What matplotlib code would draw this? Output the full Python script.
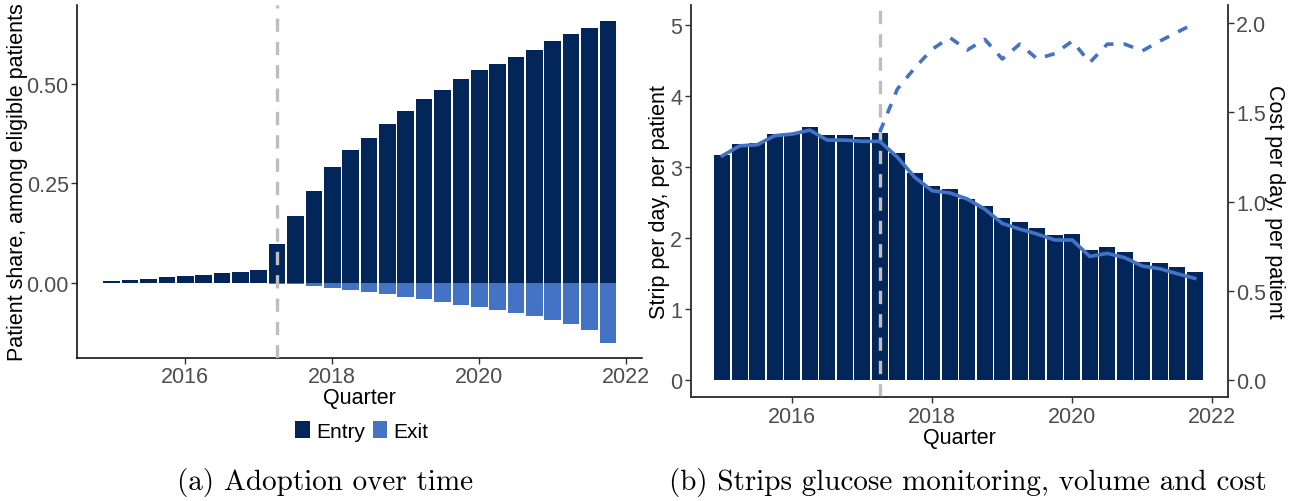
import matplotlib
matplotlib.use("Agg")
import matplotlib.pyplot as plt
from matplotlib.patches import Patch
import numpy as np

plt.rcParams["font.family"] = ["Liberation Sans", "DejaVu Sans"]

# ---- data -------------------------------------------------------------
quarters = np.arange(2015.0, 2022.0, 0.25)          # 2015Q1 .. 2021Q4

entry_share = [0.004, 0.007, 0.009, 0.014, 0.017, 0.019, 0.024, 0.027, 0.032,
               0.097, 0.167, 0.230, 0.290, 0.333, 0.363, 0.398, 0.431, 0.461,
               0.483, 0.511, 0.533, 0.549, 0.566, 0.584, 0.606, 0.624, 0.639,
               0.656]
exit_share = [0.0, 0.0, 0.0, 0.0, 0.0, 0.0, 0.0, 0.0, 0.0,
              -0.002, -0.003, -0.0075, -0.0125, -0.0176, -0.0226, -0.0276,
              -0.035, -0.040, -0.048, -0.055, -0.060, -0.068, -0.075, -0.083,
              -0.093, -0.103, -0.118, -0.150]

strips_per_day = [3.17, 3.32, 3.33, 3.46, 3.46, 3.56, 3.45, 3.45, 3.42, 3.47,
                  3.19, 2.92, 2.73, 2.69, 2.55, 2.45, 2.28, 2.22, 2.14, 2.04,
                  2.05, 1.83, 1.87, 1.80, 1.66, 1.65, 1.59, 1.52]
strip_cost = [1.257, 1.313, 1.319, 1.370, 1.379, 1.401, 1.345, 1.345, 1.338,
              1.338, 1.250, 1.136, 1.061, 1.049, 1.015, 0.958, 0.878, 0.846,
              0.818, 0.785, 0.785, 0.693, 0.710, 0.686, 0.639, 0.624, 0.596,
              0.570]

cgm_quarters = np.arange(2017.25, 2022.0, 0.25)
cgm_cost = [1.39, 1.63, 1.75, 1.855, 1.92, 1.85, 1.91, 1.80, 1.883, 1.80,
            1.83, 1.90, 1.78, 1.883, 1.883, 1.845, 1.90, 1.95, 2.00]

policy_date = 2017.25
year_ticks = [2016, 2018, 2020, 2022]

# ---- style ------------------------------------------------------------
NAVY = "#03265A"
BLUE = "#4472C4"
GREY_LINE = "#BEBEBE"
TICK_COL = "#4D4D4D"
FS_TICK = 15.5
FS_TITLE = 15.5

W, H = 1301, 502
fig = plt.figure(figsize=(W / 100, H / 100), dpi=100)


def px_axes(x0, y0, x1, y1):
    return fig.add_axes([x0 / W, 1 - y1 / H, (x1 - x0) / W, (y1 - y0) / H])


def style_axis(ax, spine_col):
    for s in ax.spines.values():
        s.set_color(spine_col)
        s.set_linewidth(1.1)
    ax.tick_params(axis="both", direction="out", length=4, width=1.0,
                   color="#333333", labelcolor=TICK_COL, labelsize=FS_TICK,
                   pad=2)


bar_w = 0.225

# ---- (a) adoption -----------------------------------------------------
ax1 = px_axes(77, 6, 641.7, 359)
ax1.bar(quarters, entry_share, width=bar_w, color=NAVY, label="Entry", zorder=2)
ax1.bar(quarters, exit_share, width=bar_w, color=BLUE, label="Exit", zorder=2)
ax1.axvline(policy_date, color=GREY_LINE, lw=2.4, dashes=(4, 3), zorder=3)
ax1.set_xlim(2014.527, 2022.21)
ax1.set_ylim(-0.188, 0.697)
ax1.set_xticks(year_ticks)
ax1.set_yticks([0.0, 0.25, 0.5])
ax1.set_yticklabels(["0.00", "0.25", "0.50"])
ax1.spines["top"].set_visible(False)
ax1.spines["right"].set_visible(False)
style_axis(ax1, "#000000")
ax1.set_xlabel("Quarter", fontsize=FS_TITLE, labelpad=0)
ax1.set_ylabel("Patient share, among eligible patients", fontsize=FS_TITLE,
               va="center")
ax1.yaxis.set_label_coords(-0.1045, 0.5)

handles = [Patch(facecolor=NAVY, edgecolor="none"),
           Patch(facecolor=BLUE, edgecolor="none")]
fig.legend(handles, ["Entry", "Exit"], ncol=2, frameon=False,
           loc="center", bbox_to_anchor=(362 / W, 1 - 431.7 / H),
           fontsize=15, handlelength=0.68, handleheight=0.9,
           handletextpad=0.3, columnspacing=0.4, borderpad=0)

# ---- (b) strips volume and cost ---------------------------------------
ax2 = px_axes(690.7, 6, 1227.7, 398.3)
ax2.bar(quarters, strips_per_day, width=bar_w, color=NAVY, zorder=2)
ax2.axvline(policy_date, color=GREY_LINE, lw=2.4, dashes=(4, 3), zorder=3)
ax2.set_xlim(2014.549, 2022.22)
ylo, yhi = -0.243, 5.277
ax2.set_ylim(ylo, yhi)
ax2.set_xticks(year_ticks)
ax2.set_yticks([0, 1, 2, 3, 4, 5])
ax2.spines["top"].set_visible(False)
style_axis(ax2, "#333333")
ax2.set_xlabel("Quarter", fontsize=FS_TITLE, labelpad=0)
ax2.set_ylabel("Strip per day, per patient", fontsize=FS_TITLE, va="center")
ax2.yaxis.set_label_coords(-0.0572, 0.5)

scale = 2.51
ax3 = ax2.twinx()
ax3.set_ylim(ylo / scale, yhi / scale)
ax3.plot(quarters, strip_cost, color=BLUE, lw=2.6, zorder=4)
ax3.plot(cgm_quarters, cgm_cost, color=BLUE, lw=2.6, dashes=(2.8, 2.8),
         zorder=4)
ax3.set_yticks([0.0, 0.5, 1.0, 1.5, 2.0])
ax3.set_yticklabels(["0.0", "0.5", "1.0", "1.5", "2.0"])
ax3.spines["top"].set_visible(False)
style_axis(ax3, "#333333")
ax3.set_ylabel("Cost per day, per patient", fontsize=FS_TITLE, rotation=270,
               va="center")
ax3.yaxis.set_label_coords(1.088, 0.5)

# ---- captions ---------------------------------------------------------
fig.text(325 / W, 1 - 490 / H, "(a) Adoption over time", family="cmr10",
         fontsize=21, ha="center", va="baseline")
fig.text(968 / W, 1 - 490 / H, "(b) Strips glucose monitoring, volume and cost",
         family="cmr10", fontsize=21, ha="center", va="baseline")

fig.savefig("out.png", dpi=100)
